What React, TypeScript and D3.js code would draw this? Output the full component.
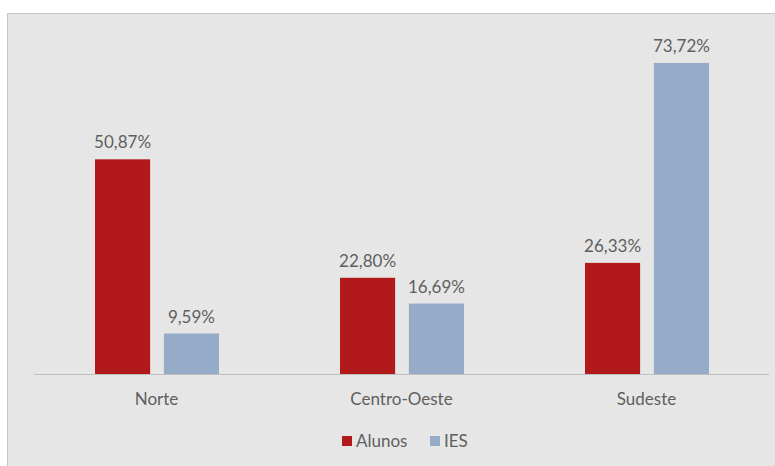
import React from "react";
import * as d3 from "d3";

const categories = ["Norte", "Centro-Oeste", "Sudeste"];
const seriesNames = ["Alunos", "IES"];
const alunos = [50.87, 22.8, 26.33];
const ies = [9.59, 16.69, 73.72];
const colors = ["#b2191b", "#95abc8"];

const W = 775, H = 466;
const font = "Lato, 'Open Sans', sans-serif";

export default function App() {
  const left = 34, right = 769, base = 374;
  const x = d3.scaleBand().domain(categories).range([left, right]).paddingInner(0).paddingOuter(0);
  const x1 = d3.scaleBand().domain(seriesNames).range([61, 185]).paddingInner(0.2);
  const y = d3.scaleLinear().domain([0, 100]).range([base, base - 422]);
  const fmt = (v: number) => v.toFixed(2).replace(".", ",") + "%";
  const series = [alunos, ies];
  return (
    <div style={{ position: "absolute", left: 0, top: 0 }}>
      <svg width={W} height={H} style={{ display: "block" }}>
        <rect x={0} y={0} width={W} height={H} fill="#ffffff" />
        <rect x={7.5} y={13.5} width={W} height={H} fill="#e6e6e6" stroke="#c6c6c6" strokeWidth={1} />
        {categories.map((c, i) =>
          series.map((s, j) => {
            const bx = (x(c) as number) + (x1(seriesNames[j]) as number);
            const bw = x1.bandwidth();
            return (
              <g key={c + j}>
                <rect x={bx} y={y(s[i])} width={bw} height={base - y(s[i])} fill={colors[j]} />
                <text x={bx + bw / 2} y={y(s[i]) - 11} textAnchor="middle" fontFamily={font} fontSize={17} fill="#5f5f5f">
                  {fmt(s[i])}
                </text>
              </g>
            );
          })
        )}
        <line x1={left} x2={right} y1={base + 0.5} y2={base + 0.5} stroke="#bfbfbf" strokeWidth={1} />
        {categories.map((c) => (
          <text key={c} x={(x(c) as number) + x.bandwidth() / 2} y={405} textAnchor="middle" fontFamily={font} fontSize={17} fill="#5f5f5f">
            {c}
          </text>
        ))}
        <g>
          <rect x={342} y={436} width={10} height={10} fill={colors[0]} />
          <text x={356} y={447} fontFamily={font} fontSize={17} fill="#5f5f5f">Alunos</text>
          <rect x={430} y={436} width={10} height={10} fill={colors[1]} />
          <text x={444} y={447} fontFamily={font} fontSize={17} fill="#5f5f5f">IES</text>
        </g>
      </svg>
    </div>
  );
}
